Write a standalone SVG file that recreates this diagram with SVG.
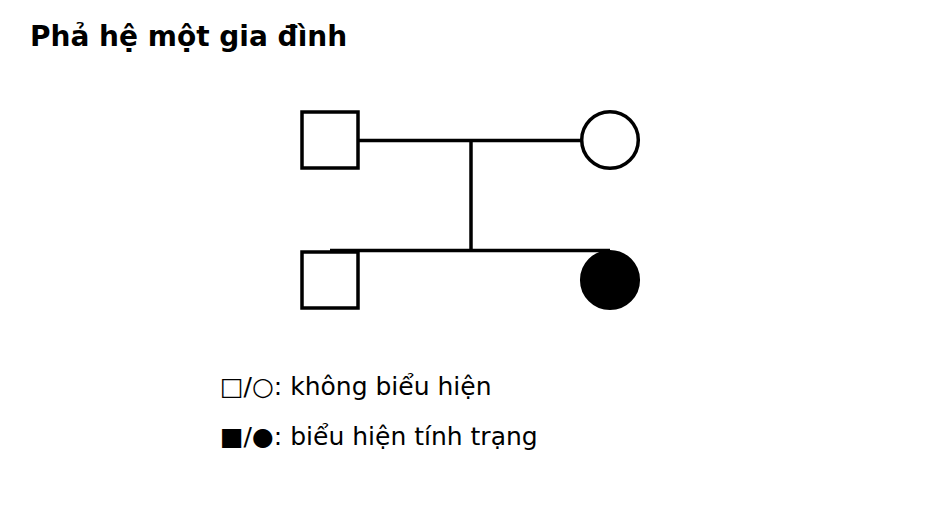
<svg xmlns="http://www.w3.org/2000/svg" width="950" height="520" viewBox="0 0 950 520">
<style>
.sym{fill:#fff;stroke:#000;stroke-width:3.5}
.aff{fill:#000;stroke:#000;stroke-width:3.5}
.ln{stroke:#000;stroke-width:3.5;fill:none}
.title{font-family:"DejaVu Sans",sans-serif;font-weight:bold;font-size:28px;fill:#000}
.leg{font-family:"DejaVu Sans",sans-serif;font-size:25px;fill:#000}
</style>
<rect width="950" height="520" fill="#fff"/>
<text class="title" x="30" y="46">Phả hệ một gia đình</text>
<g id="connectors">
<line class="ln" x1="358" y1="140.5" x2="582" y2="140.5"/>
<line class="ln" x1="471" y1="140.5" x2="471" y2="250.5"/>
<line class="ln" x1="330" y1="250.5" x2="610" y2="250.5"/>
</g>
<g id="father"><rect class="sym" x="302" y="112" width="56" height="56"/></g>
<g id="mother"><circle class="sym" cx="610" cy="140" r="28.3"/></g>
<g id="son"><rect class="sym" x="302" y="252" width="56" height="56"/></g>
<g id="daughter"><circle class="aff" cx="610" cy="280" r="28.3"/></g>
<g id="legend">
<text class="leg" x="220" y="395">□/○: không biểu hiện</text>
<text class="leg" x="220" y="445">■/●: biểu hiện tính trạng</text>
</g>
</svg>
